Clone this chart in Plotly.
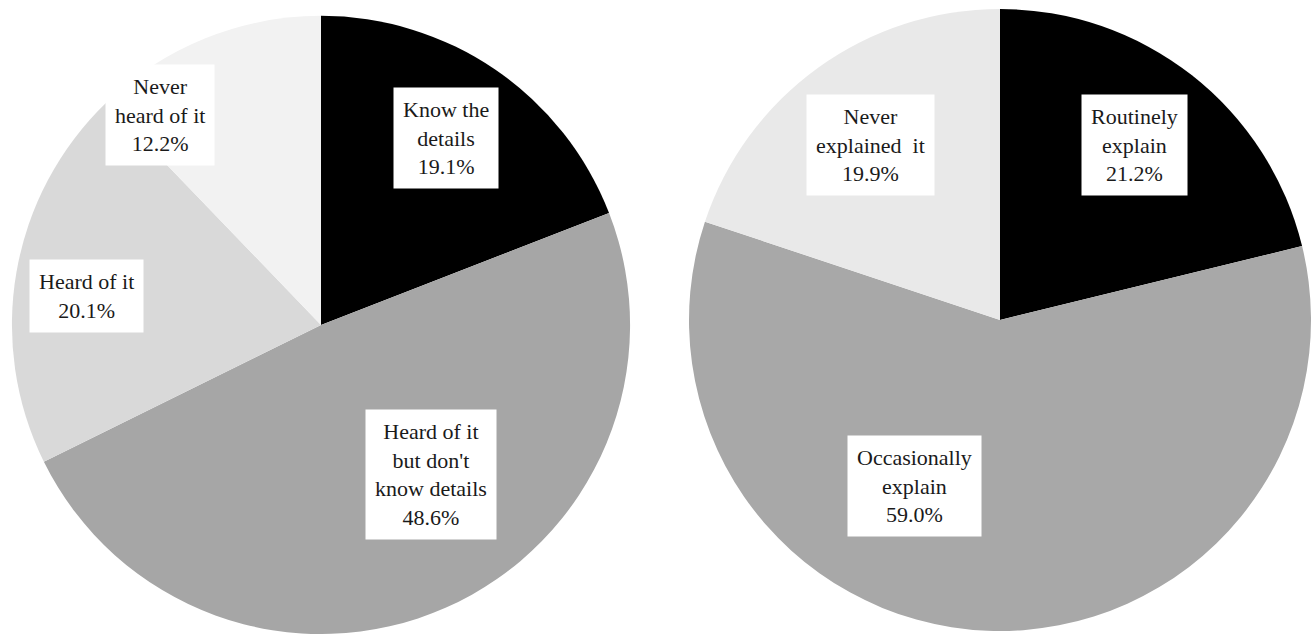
import plotly.graph_objects as go

# Left pie: awareness
left_labels = ["Know the details", "Heard of it but don't know details", "Heard of it", "Never heard of it"]
left_values = [19.1, 48.6, 20.1, 12.2]
left_colors = ["#000000", "#a6a6a6", "#d9d9d9", "#f2f2f2"]
left_texts = ["Know the<br>details<br>19.1%", "Heard of it<br>but don't<br>know details<br>48.6%",
              "Heard of it<br>20.1%", "Never<br>heard of it<br>12.2%"]

# Right pie: explanation
right_labels = ["Routinely explain", "Occasionally explain", "Never explained it"]
right_values = [21.2, 59.0, 19.9]
right_colors = ["#000000", "#a8a8a8", "#e9e9e9"]
right_texts = ["Routinely<br>explain<br>21.2%", "Occasionally<br>explain<br>59.0%",
               "Never<br>explained  it<br>19.9%"]

W, H = 1311, 634

fig = go.Figure()
fig.add_trace(go.Pie(labels=left_labels, values=left_values, sort=False, direction="clockwise",
                     rotation=0, textinfo="none", hoverinfo="label+percent",
                     marker=dict(colors=left_colors, line=dict(width=0)),
                     domain=dict(x=[9 / W, 633 / W], y=[0, 0.975]), showlegend=False))
fig.add_trace(go.Pie(labels=right_labels, values=right_values, sort=False, direction="clockwise",
                     rotation=0, textinfo="none", hoverinfo="label+percent",
                     marker=dict(colors=right_colors, line=dict(width=0)),
                     domain=dict(x=[689 / W, 1.0], y=[3 / H, 625 / H]), showlegend=False))

# label box centres (pixels from top-left)
left_pos = [(446, 138), (431, 474), (87, 296), (160, 115)]
right_pos = [(1134, 145), (914, 486), (870, 145)]

for txt, (px, py) in list(zip(left_texts, left_pos)) + list(zip(right_texts, right_pos)):
    fig.add_annotation(x=px / W, y=1 - py / H, xref="paper", yref="paper", text=txt,
                       showarrow=False, bgcolor="white", borderpad=9,
                       font=dict(family="Liberation Serif", size=22, color="#1a1a1a"),
                       align="center", xanchor="center", yanchor="middle")

fig.update_layout(width=W, height=H, margin=dict(l=0, r=0, t=0, b=0),
                  paper_bgcolor="white", plot_bgcolor="white")

fig.write_html("out.html")
